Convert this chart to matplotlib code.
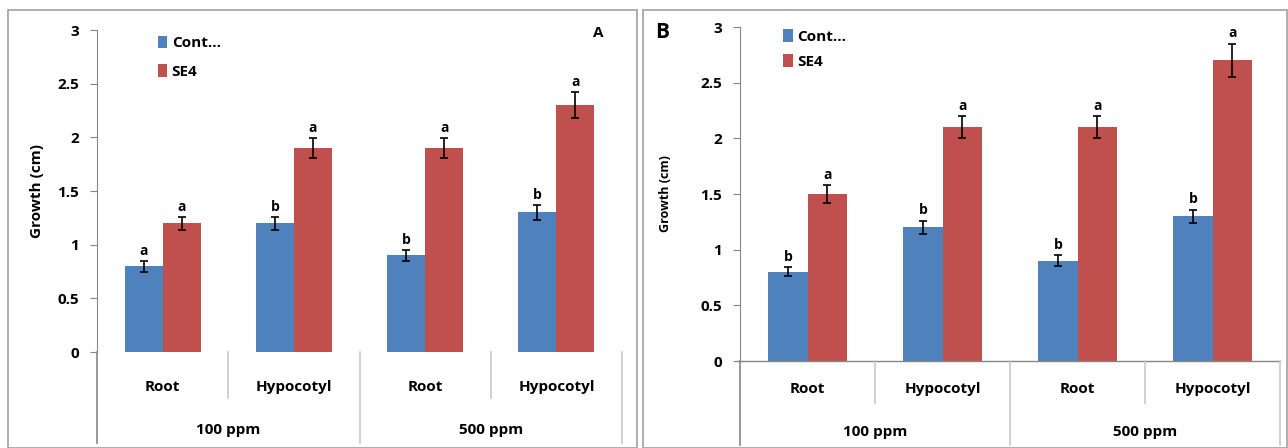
import numpy as np
import matplotlib.pyplot as plt
from matplotlib.patches import Rectangle

plt.rcParams['font.family'] = ['Open Sans', 'DejaVu Sans']

tissues = ['Root', 'Hypocotyl', 'Root', 'Hypocotyl']
doses = ['100 ppm', '500 ppm']
series = ['Cont...', 'SE4']

a_cont = [0.8, 1.2, 0.9, 1.3]
a_se4 = [1.2, 1.9, 1.9, 2.3]
a_cont_err = [0.05, 0.06, 0.05, 0.07]
a_se4_err = [0.06, 0.09, 0.09, 0.12]
a_cont_let = ['a', 'b', 'b', 'b']
a_se4_let = ['a', 'a', 'a', 'a']

b_cont = [0.8, 1.2, 0.9, 1.3]
b_se4 = [1.5, 2.1, 2.1, 2.7]
b_cont_err = [0.04, 0.06, 0.05, 0.06]
b_se4_err = [0.08, 0.1, 0.1, 0.15]
b_cont_let = ['b', 'b', 'b', 'b']
b_se4_let = ['a', 'a', 'a', 'a']

BLUE = '#4F81BD'
RED = '#C0504D'
GRID = '#C8C8C8'
W, H = 1288, 448

fig = plt.figure(figsize=(W / 100, H / 100), dpi=100)

# panel frames
fig.patches.append(Rectangle((8 / W, 0), 629 / W, 438 / H, transform=fig.transFigure,
                             fill=False, edgecolor='#A0A0A0', lw=1.2))
fig.patches.append(Rectangle((643 / W, 0), 644 / W, 438 / H, transform=fig.transFigure,
                             fill=False, edgecolor='#A0A0A0', lw=1.2))


def panel(box, cont, se4, cerr, serr, clet, slet, zero_line, row1, row2, inner_bot, outer_bot,
          ylab_size, ylab_pad):
    x0, x1, ytop, y0 = box
    ax = fig.add_axes([x0 / W, (H - y0) / H, (x1 - x0) / W, (y0 - ytop) / H])
    hpx = y0 - ytop
    x = np.arange(len(tissues))
    w = 0.29
    ax.bar(x - w / 2, cont, w, color=BLUE, label=series[0], zorder=2)
    ax.bar(x + w / 2, se4, w, color=RED, label=series[1], zorder=2)
    ax.errorbar(x - w / 2, cont, yerr=cerr, fmt='none', ecolor='black', elinewidth=1.2,
                capsize=3, capthick=1.2, zorder=3)
    ax.errorbar(x + w / 2, se4, yerr=serr, fmt='none', ecolor='black', elinewidth=1.2,
                capsize=3, capthick=1.2, zorder=3)
    for i in range(len(tissues)):
        ax.text(x[i] - w / 2, cont[i] + cerr[i] + 0.03, clet[i], ha='center', va='bottom',
                fontsize=10, fontweight='bold')
        ax.text(x[i] + w / 2, se4[i] + serr[i] + 0.03, slet[i], ha='center', va='bottom',
                fontsize=10, fontweight='bold')
    ax.set_xlim(-0.5, len(tissues) - 0.5)
    ax.set_ylim(0, 3)
    ax.set_yticks(np.arange(0, 3.01, 0.5))
    ax.set_yticklabels(['0', '0.5', '1', '1.5', '2', '2.5', '3'], fontweight='bold', fontsize=11)
    ax.set_xticks([])
    ax.tick_params(axis='y', length=5, color='#868686', pad=8)
    for s in ['top', 'right', 'bottom']:
        ax.spines[s].set_visible(False)
    ax.spines['left'].set_color('#868686')
    if zero_line:
        ax.plot([-0.5 - 0.02, len(tissues) - 0.5], [0, 0], color='#868686', lw=1, clip_on=False)
    ax.set_ylabel('Growth (cm)', fontsize=ylab_size, fontweight='bold', labelpad=ylab_pad)
    tr = ax.get_xaxis_transform()
    for i, t in enumerate(tissues):
        ax.text(i, -(row1 - y0) / hpx, t, transform=tr, ha='center', va='center',
                fontsize=11, fontweight='bold')
    for j, d in enumerate(doses):
        ax.text(2 * j + 0.5, -(row2 - y0) / hpx, d, transform=tr, ha='center', va='center',
                fontsize=11, fontweight='bold')
    for xs in [0.5, 2.5]:
        ax.plot([xs, xs], [0, -(inner_bot - y0) / hpx], transform=tr, color=GRID, lw=1.2,
                clip_on=False)
    for xs in [-0.5, 1.5, 3.5]:
        ax.plot([xs, xs], [0, -(outer_bot - y0) / hpx], transform=tr,
                color='#868686' if xs == -0.5 else GRID, lw=1.2, clip_on=False)
    return ax


axA = panel((97, 622, 30, 352), a_cont, a_se4, a_cont_err, a_se4_err, a_cont_let, a_se4_let,
            False, 387, 430, 398, 443, 11, 9.5)
axA.legend(loc='upper left', bbox_to_anchor=(0.09, 1.025), frameon=False,
           handlelength=0.6, handleheight=0.9, handletextpad=0.3, labelspacing=0.9,
           prop={'weight': 'bold', 'size': 11})
axA.text(0.955, 0.99, 'A', transform=axA.transAxes, ha='center', va='center',
         fontsize=11, fontweight='bold')

axB = panel((740, 1280, 27, 361), b_cont, b_se4, b_cont_err, b_se4_err, b_cont_let, b_se4_let,
            True, 389, 432, 403, 445, 9, 20)
axB.legend(loc='upper left', bbox_to_anchor=(0.055, 1.035), frameon=False,
           handlelength=0.6, handleheight=0.9, handletextpad=0.3, labelspacing=0.7,
           prop={'weight': 'bold', 'size': 11})
fig.text(662 / W, (H - 32) / H, 'B', ha='center', va='center', fontsize=15, fontweight='bold')

fig.savefig('out.png', dpi=100)
